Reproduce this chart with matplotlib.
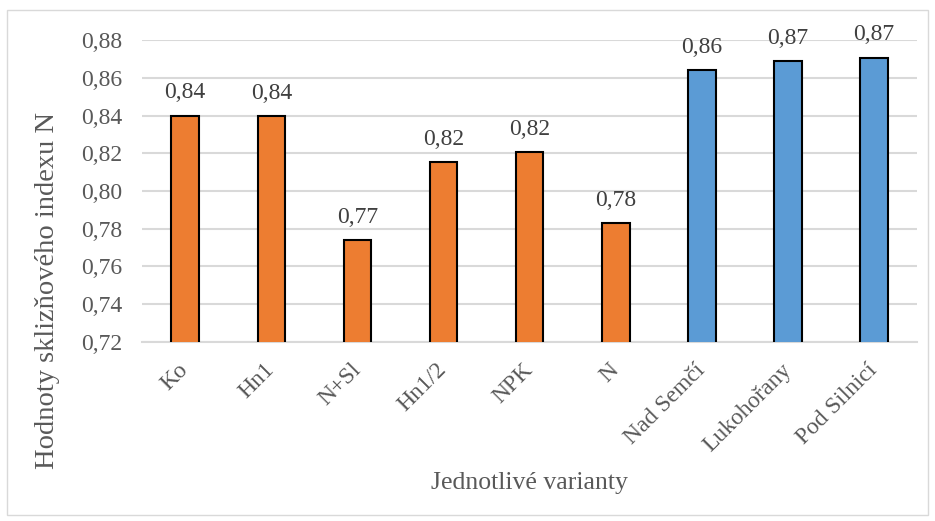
import matplotlib.pyplot as plt
from matplotlib.patches import Rectangle

# varianty a hodnoty sklizňového indexu N
varianty = ['Ko', 'Hn1', 'N+Sl', 'Hn1/2', 'NPK', 'N', 'Nad Semčí', 'Lukohořany', 'Pod Silnicí']
hodnoty = [0.840, 0.8395, 0.7738, 0.8154, 0.8207, 0.7829, 0.8642, 0.8689, 0.8707]
skupina = ['pokus'] * 6 + ['lokalita'] * 3
barvy_skupin = {'pokus': '#ED7D31', 'lokalita': '#5B9BD5'}

y_ticks = [0.72, 0.74, 0.76, 0.78, 0.80, 0.82, 0.84, 0.86, 0.88]

plt.rcParams['font.family'] = ['Liberation Serif', 'DejaVu Serif']
seda = '#595959'

fig = plt.figure(figsize=(9.35, 5.21), dpi=100)
ax = fig.add_axes([0.152, 0.344, 0.829, 0.579])

# světle šedý rámeček kolem celého grafu
fig.patches.append(Rectangle((0.008, 0.012), 0.984, 0.968, transform=fig.transFigure,
                             fill=False, edgecolor='#D9D9D9', lw=1.0))

x = range(len(varianty))
barvy = [barvy_skupin[s] for s in skupina]
sloupce = ax.bar(x, hodnoty, width=0.32, color=barvy, edgecolor='black', linewidth=1.5, zorder=3)

for s, h in zip(sloupce, hodnoty):
    ax.text(s.get_x() + s.get_width() / 2, h + 0.0065, f'{h:.2f}'.replace('.', ','),
            ha='center', va='bottom', fontsize=17, color='#404040')

ax.set_ylim(0.72, 0.88)
ax.set_xlim(-0.5, len(varianty) - 0.5)
ax.set_yticks(y_ticks)
ax.set_yticklabels([f'{v:.2f}'.replace('.', ',') for v in y_ticks], fontsize=17, color=seda)
ax.set_xticks(list(x))
ax.set_xticklabels(varianty, rotation=45, ha='right', va='center', rotation_mode='anchor',
                   fontsize=17, color=seda)
ax.tick_params(axis='both', length=0)
ax.tick_params(axis='y', pad=14)
ax.tick_params(axis='x', pad=18)

ax.grid(axis='y', color='#D9D9D9', lw=1.5, zorder=0)
for strana in ['top', 'right', 'left']:
    ax.spines[strana].set_visible(False)
ax.spines['bottom'].set_color('#D9D9D9')
ax.spines['bottom'].set_linewidth(1.5)

ax.set_ylabel('Hodnoty sklizňového indexu N', fontsize=20.5, color=seda, va='center')
ax.yaxis.set_label_coords(0.051, 0.443, transform=fig.transFigure)
ax.set_xlabel('Jednotlivé varianty', fontsize=18.5, color=seda, va='center')
ax.xaxis.set_label_coords(0.566, 0.073, transform=fig.transFigure)

fig.savefig('out.png', dpi=100)
